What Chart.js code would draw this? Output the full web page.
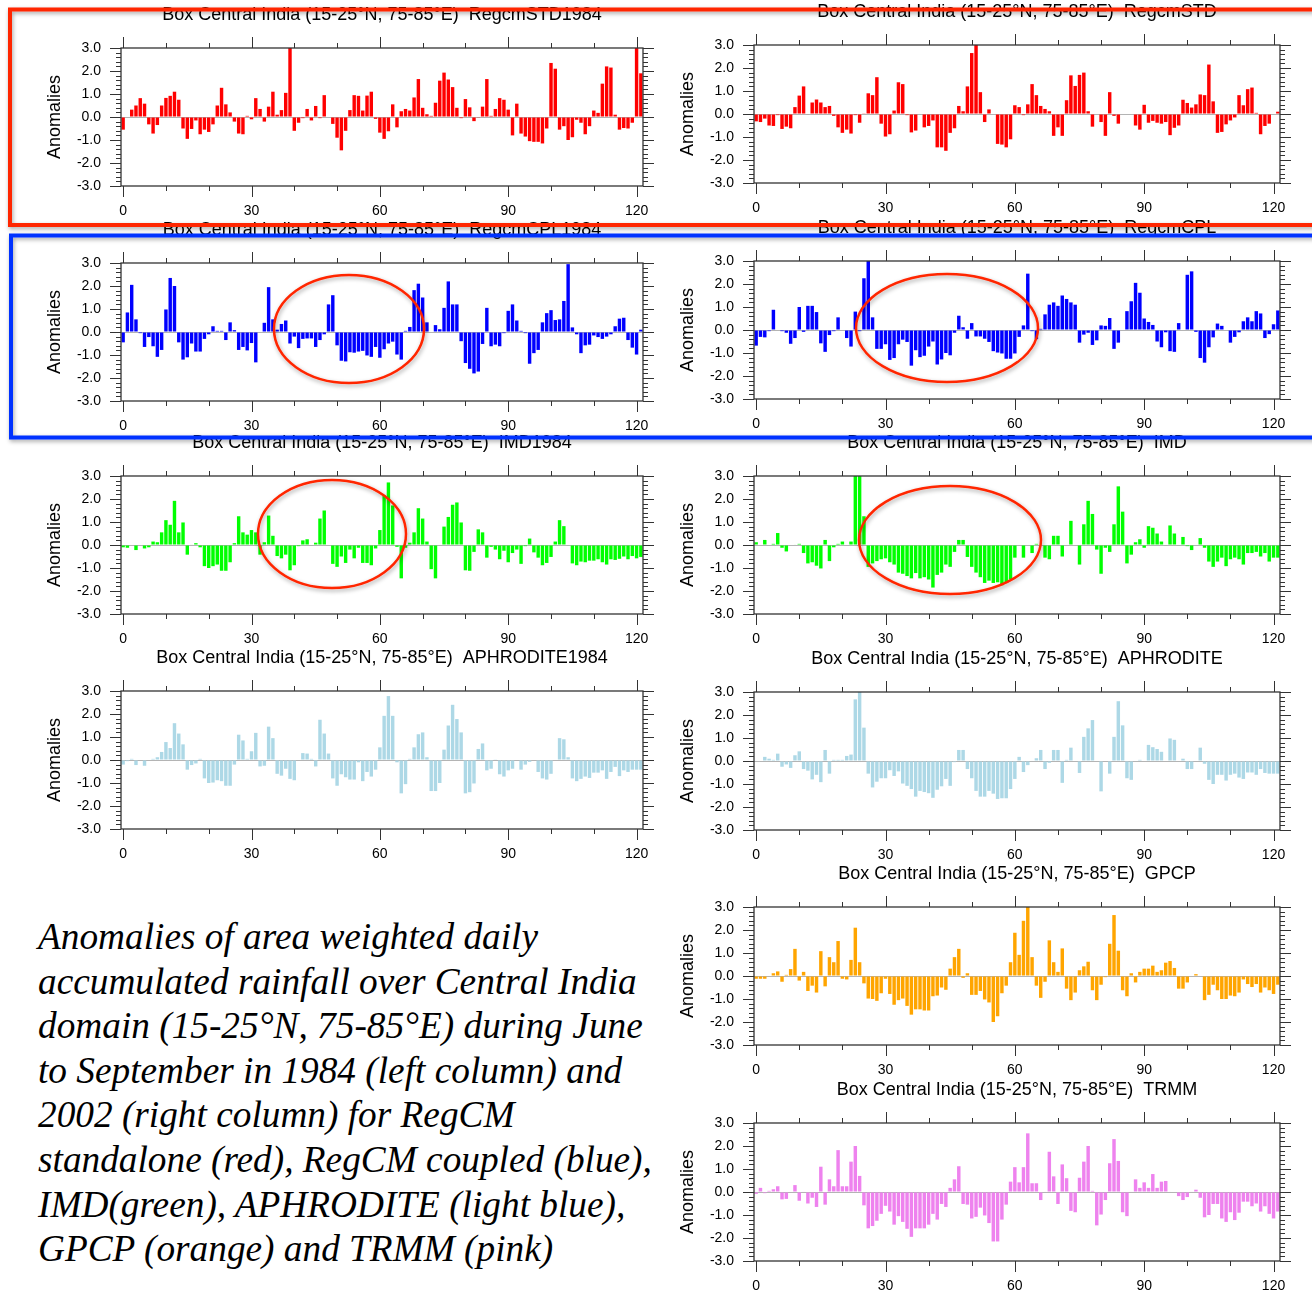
<!DOCTYPE html>
<html>
<head>
<meta charset="utf-8">
<script src="https://cdn.jsdelivr.net/npm/chart.js@4.4.0/dist/chart.umd.min.js"></script>
<style>
html, body { margin: 0; padding: 0; background: #fff; overflow: hidden; }
#page { position: relative; width: 1312px; height: 1290px; overflow: hidden; background: #fff; }
#page canvas { position: absolute; }
#caption {
    position: absolute; left: 38px; top: 915px;
    font-family: "Liberation Serif", "Times New Roman", serif;
    font-style: italic; font-size: 37.3px; line-height: 44.6px;
    white-space: nowrap; color: #000;
}
#overlay { position: absolute; left: 0; top: 0; }
</style>
</head>
<body>
<div id="page">
    <div id="caption">Anomalies of area weighted daily<br>accumulated rainfall over Central India<br>domain (15-25°N, 75-85°E) during June<br>to September in 1984 (left column) and<br>2002 (right column) for RegCM<br>standalone (red), RegCM coupled (blue),<br>IMD(green), APHRODITE (light blue),<br>GPCP (orange) and TRMM (pink)</div>
</div>
<script>
// days of June-September (0..121)
const days = [];
for (let i = 0; i < 122; i++) days.push(i);

const boxTitle = 'Box Central India (15-25°N, 75-85°E)  ';

// RegCM standalone
const regcmStd1984 = [
    -0.55, 0.0, 0.32, 0.5, 0.82, 0.58, -0.32, -0.72, -0.35, 0.5,
    0.83, 0.92, 1.1, 0.75, -0.5, -0.95, -0.52, -0.15, -0.75, -0.55,
    -0.65, -0.32, 0.5, 1.27, 0.55, 0.2, -0.2, -0.72, -0.75, 0.05,
    -0.1, 0.82, 0.35, -0.2, 0.45, 1.1, 0.1, 0.3, 1.05, 3.0,
    -0.6, -0.25, -0.05, 0.35, -0.15, 0.48, -0.05, 0.95, 0.0, -0.3,
    -0.9, -1.45, -0.6, 0.3, 0.95, 0.92, 0.28, 0.93, 1.1, -0.08,
    -0.68, -0.95, -0.62, 0.55, -0.45, 0.25, 0.35, 0.28, 0.85, 1.65,
    0.4, 0.12, 0.05, 0.62, 1.58, 1.93, 1.63, 1.3, 0.4, -0.05,
    0.78, 0.42, -0.18, -0.03, 0.45, 1.65, 0.05, 0.35, 0.82, 0.75,
    0.32, -0.8, 0.58, -0.72, -0.85, -1.05, -1.08, -1.08, -1.15, -0.5,
    2.35, 2.1, -0.55, -0.4, -1.0, -0.88, -0.12, -0.25, -0.75, -0.4,
    0.28, 0.18, 1.45, 2.2, 2.15, 0.1, -0.55, -0.48, -0.5, -0.25,
    3.0, 1.9
];
const regcmStd2002 = [
    -0.32, -0.35, -0.2, -0.5, -0.52, -0.05, -0.65, -0.55, -0.62, 0.3,
    0.8, 1.2, -0.02, 0.5, 0.63, 0.5, 0.3, 0.35, -0.08, -0.58,
    -0.82, -0.68, -0.85, -0.05, -0.38, 0.03, 0.9, 0.82, 1.6, -0.42,
    -0.98, -0.88, 0.15, 1.38, 1.3, -0.05, -0.8, -0.72, 0.0, -0.58,
    -0.52, -0.28, -1.45, -1.45, -1.6, -0.82, -0.62, 0.35, 0.12, 1.2,
    2.65, 3.0, 0.95, -0.35, 0.2, 0.0, -1.3, -1.33, -1.45, -1.1,
    0.38, 0.3, -0.05, 0.42, 1.3, 0.82, 0.35, 0.22, 0.12, -0.95,
    -0.58, -0.95, 0.6, 1.68, 1.22, 1.7, 1.8, 0.12, -0.55, 0.0,
    -0.35, -0.95, 0.95, -0.08, -0.42, 0.0, 0.0, 0.0, -0.5, -0.68,
    0.4, -0.38, -0.3, -0.38, -0.42, -0.35, -0.92, -0.6, -0.5, 0.62,
    0.48, 0.28, 0.42, 0.85, 0.82, 2.15, 0.55, -0.82, -0.78, -0.45,
    -0.28, -0.15, 0.82, 0.38, 1.08, 1.15, 0.05, -0.88, -0.52, -0.42,
    0.0, 0.1
];

// RegCM coupled
const regcmCpl1984 = [
    -0.45, 0.85, 2.05, 0.55, -0.05, -0.65, -0.22, -0.62, -1.08, -0.78,
    0.98, 2.35, 2.0, -0.45, -1.2, -1.1, -0.5, -0.85, -0.85, -0.3,
    -0.1, 0.25, 0.05, 0.05, -0.35, 0.42, 0.08, -0.78, -0.65, -0.8,
    -0.48, -1.32, 0.0, 0.4, 1.95, 0.55, 0.1, 0.35, 0.5, -0.5,
    -0.2, -0.7, -0.3, -0.28, -0.28, -0.65, -0.35, -0.1, 1.2, 1.6,
    -0.58, -1.25, -1.28, -0.88, -0.9, -0.85, -0.82, -1.02, -1.08, -0.65,
    -1.12, -0.75, -0.5, -0.42, -0.98, -1.2, 0.05, 0.22, 1.82, 2.1,
    1.5, 0.42, 0.0, 0.3, 0.12, 1.05, 2.2, 1.2, 1.2, -0.4,
    -1.35, -1.6, -1.8, -1.72, -0.52, 1.05, -0.62, -0.55, -0.62, -0.05,
    0.92, 1.2, 0.5, 0.05, -0.05, -1.38, -0.92, -0.78, 0.42, 0.82,
    0.95, 0.52, 0.55, 1.35, 2.95, 0.2, -0.1, -0.92, -0.58, -0.55,
    -0.15, -0.22, -0.3, -0.2, -0.1, 0.25, 0.58, 0.62, -0.35, -0.68,
    -0.98, 0.1
];
const regcmCpl2002 = [
    -0.68, -0.3, -0.32, -0.05, 0.88, 0.0, -0.05, -0.12, -0.6, -0.35,
    1.0, -0.08, 1.05, 1.05, 0.78, -0.58, -0.95, -0.22, -0.05, 0.55,
    0.0, -0.35, -0.72, 0.8, -0.05, 2.25, 3.0, 0.55, -0.82, -0.82,
    -0.62, -1.3, -1.22, -0.62, -0.42, -0.52, -1.55, -0.88, -1.18, -1.12,
    -0.72, -0.5, -1.5, -1.28, -1.0, -1.1, -0.12, 0.62, 0.12, -0.38,
    0.3, -0.28, -0.28, -0.38, -0.52, -0.92, -0.98, -1.02, -1.25, -1.25,
    -1.02, -0.3, 0.2, 2.45, -0.05, -0.4, 0.05, 0.68, 1.1, 1.2,
    1.05, 1.5, 1.35, 1.2, 1.1, -0.55, -0.2, -0.12, -0.65, -0.45,
    0.2, 0.18, 0.52, -0.82, -0.55, 0.0, 0.82, 1.25, 2.05, 1.62,
    0.5, 0.35, 0.22, -0.5, -0.75, -0.1, -0.92, -0.95, 0.3, 0.0,
    2.4, 2.55, -0.08, -1.22, -1.42, -0.75, -0.32, 0.28, 0.18, 0.0,
    -0.55, -0.3, -0.1, 0.38, 0.55, 0.38, 0.82, 0.72, -0.35, -0.18,
    0.25, 0.85
];

// IMD
const imd1984 = [
    -0.1, -0.12, 0.0, -0.22, 0.0, -0.15, -0.1, 0.15, 0.12, 0.55,
    1.08, 0.88, 1.92, 0.55, 0.98, -0.42, 0.02, 0.08, -0.1, -0.92,
    -1.0, -0.92, -0.85, -1.12, -1.12, -0.75, 0.08, 1.25, 0.55, 0.45,
    0.65, 0.55, -0.42, 0.12, 1.28, 0.4, -0.48, -0.58, -0.42, -1.1,
    -0.88, -0.05, 0.2, 0.25, -0.02, 0.1, 1.15, 1.5, 0.0, -0.82,
    -0.95, -0.5, -0.78, -0.2, -0.58, -0.12, -0.78, -0.78, -0.88, -0.15,
    0.65, 2.15, 2.72, 1.72, -0.08, -1.45, -0.12, 0.1, 0.55, 1.6,
    1.15, 0.15, -1.05, -1.45, 0.0, 0.8, 1.22, 1.75, 1.85, 0.98,
    -1.1, -1.12, -0.3, 0.68, 0.55, -0.55, -0.08, -0.2, -0.62, -0.25,
    -0.75, -0.35, -0.2, -0.82, -0.05, 0.28, -0.32, -0.55, -0.88, -0.78,
    -0.52, 0.15, 1.08, 0.82, -0.02, -0.8, -0.88, -0.72, -0.75, -0.68,
    -0.68, -0.62, -0.75, -0.85, -0.62, -0.65, -0.6, -0.5, -0.62, -0.48,
    -0.58, -0.52
];
const imd2002 = [
    0.12, 0.0, 0.22, 0.0, 0.05, 0.52, -0.12, -0.28, 0.0, 0.02,
    0.05, -0.35, -0.8, -0.75, -0.9, -1.02, 0.22, -0.7, -0.1, 0.05,
    0.15, 0.0, 0.15, 3.0, 3.0, 1.25, -0.95, -0.8, -0.7, -0.62,
    -0.58, -0.75, -0.85, -1.2, -1.25, -1.35, -1.45, -1.22, -1.45, -1.4,
    -1.5, -1.85, -1.3, -1.2, -0.85, -0.95, -0.3, 0.22, 0.22, -0.52,
    -0.95, -1.2, -1.4, -1.65, -1.55, -1.65, -1.62, -1.75, -1.65, -1.5,
    -0.55, 0.0, -0.55, 0.0, -0.35, 0.05, 0.0, -0.55, -0.62, 0.4,
    0.4, -0.5, 0.0, 1.05, 0.0, -0.85, 0.9, 1.92, 1.35, -0.2,
    -1.25, -0.12, -0.3, 0.9, 2.55, 1.45, -0.8, -0.42, 0.12, 0.25,
    -0.12, 0.82, 0.75, 0.5, 0.15, -0.02, 0.85, 0.5, -0.02, 0.35,
    -0.05, -0.22, 0.0, 0.3, -0.12, -0.72, -0.95, -0.72, -0.55, -0.92,
    -0.62, -0.55, -0.62, -0.85, -0.35, -0.35, -0.3, -0.5, -0.35, -0.72,
    -0.55, -0.55
];

// APHRODITE
const aphro1984 = [
    -0.2, -0.05, 0.05, -0.22, 0.0, -0.25, 0.0, 0.05, 0.12, 0.35,
    0.78, 0.52, 1.6, 1.15, 0.68, -0.42, -0.22, -0.15, 0.05, -0.8,
    -1.0, -0.98, -0.88, -0.92, -1.12, -1.12, -0.2, 1.1, 0.85, 0.05,
    0.38, 1.18, -0.28, -0.25, 1.45, 0.95, -0.6, -0.68, -0.38, -0.82,
    -0.88, 0.0, 0.3, 0.28, 0.05, -0.28, 1.75, 1.15, 0.28, -0.8,
    -1.12, -0.62, -0.75, -0.85, -0.85, -0.1, -0.92, -0.52, -0.72, -0.42,
    0.55, 1.92, 2.78, 1.92, -0.1, -1.45, -1.05, 0.05, 0.55, 1.12,
    1.2, 0.12, -1.35, -1.35, -1.0, 0.45, 1.5, 2.4, 1.78, 1.2,
    -1.45, -1.4, -1.02, 0.48, 0.72, -0.45, -0.38, 0.03, -0.62, -0.72,
    -0.45, -0.38, 0.0, -0.42, -0.2, -0.08, 0.0, -0.52, -0.8, -0.85,
    -0.6, 0.0, 0.95, 0.9, 0.12, -0.8, -0.92, -0.82, -0.72, -0.78,
    -0.55, -0.55, -0.45, -0.82, -0.52, -0.3, -0.7, -0.45, -0.52, -0.42,
    -0.42, -0.42
];
const aphro2002 = [
    0.02, 0.0, 0.18, 0.1, 0.05, 0.32, -0.25, -0.15, -0.3, 0.25,
    0.42, -0.35, -0.42, -0.8, -0.6, -0.92, 0.48, -0.55, 0.05, 0.05,
    0.05, 0.22, 0.28, 2.68, 3.0, 1.45, -0.55, -1.15, -0.9, -0.75,
    -0.75, -0.4, -0.65, -0.45, -0.98, -1.08, -1.22, -1.55, -1.3, -1.35,
    -1.4, -1.6, -1.25, -1.1, -0.78, -1.08, -0.05, 0.48, 0.48, -0.35,
    -0.75, -1.3, -1.55, -1.55, -1.3, -1.42, -1.65, -1.62, -1.62, -1.22,
    -0.78, 0.18, -0.48, -0.18, 0.02, 0.12, 0.48, -0.35, -0.08, 0.48,
    0.48, -0.95, 0.05, 0.58, -0.02, -0.52, 1.05, 1.42, 1.78, 0.0,
    -1.32, 0.0, -0.55, 1.05, 2.6, 1.55, -0.75, -0.82, -0.02, 0.05,
    0.0, 0.7, 0.6, 0.52, 0.4, 0.0, 0.98, 0.92, 0.0, 0.1,
    -0.35, -0.35, 0.0, 0.58, -0.12, -0.82, -1.0, -0.6, -0.6, -0.85,
    -0.6, -0.55, -0.72, -0.78, -0.5, -0.5, -0.6, -0.35, -0.52, -0.55,
    -0.55, -0.55
];

// GPCP and TRMM (2002 only)
const gpcp2002 = [
    -0.12, -0.12, -0.12, -0.02, 0.12, 0.2, -0.25, 0.05, 0.3, 1.18,
    -0.2, 0.18, -0.65, -0.42, -0.72, 1.08, -0.45, 0.82, 0.6, 1.52,
    -0.12, -0.15, 0.7, 2.1, 0.6, -0.32, -0.98, -1.0, -1.08, -0.75,
    -0.12, -0.78, -1.25, -1.05, -0.98, -1.3, -1.68, -1.45, -1.45, -1.5,
    -1.5, -0.88, -0.85, -0.5, -0.6, 0.32, 0.82, 1.18, -0.08, 0.12,
    -0.82, -0.82, -0.65, -1.02, -1.15, -2.0, -1.75, -0.75, -0.42, 0.6,
    1.88, 0.92, 2.4, 3.0, 0.82, -0.42, -0.95, -0.25, 1.55, 0.6,
    0.18, 1.2, -0.55, -1.05, -0.72, 0.25, 0.42, 0.62, -0.62, -1.05,
    -0.38, -0.05, 1.4, 2.65, 1.1, -0.62, -0.88, 0.12, -0.28, 0.18,
    0.32, 0.32, 0.45, 0.18, 0.25, 0.58, 0.65, 0.35, -0.55, -0.55,
    -0.28, 0.0, 0.08, 0.0, -1.05, -0.82, -0.38, -0.62, -1.0, -1.0,
    -0.85, -0.88, -0.72, -0.15, -0.35, -0.48, -0.35, -0.72, -0.5, -0.62,
    -0.78, -0.38
];
const trmm2002 = [
    -0.08, 0.18, -0.05, 0.05, 0.12, 0.25, -0.32, -0.3, -0.02, 0.3,
    -0.38, 0.02, -0.5, -0.25, -0.65, 1.1, -0.55, 0.55, 0.25, 1.82,
    0.25, 0.25, 1.32, 2.0, 0.7, -0.58, -1.58, -1.48, -1.25, -0.95,
    -0.6, -0.85, -1.42, -1.05, -1.3, -1.6, -1.95, -1.58, -1.58, -1.58,
    -1.42, -0.95, -1.2, -0.52, -0.65, 0.18, 0.55, 1.12, -0.52, -0.55,
    -1.15, -1.08, -0.68, -1.02, -1.35, -2.15, -2.15, -1.2, -0.55, 0.45,
    1.08, 0.42, 1.08, 2.55, 0.38, 0.38, -0.35, 0.02, 1.75, 0.68,
    -0.52, 1.2, 0.6, -0.82, -0.88, 0.62, 1.32, 2.0, 0.05, -1.45,
    -0.98, -0.35, 1.25, 2.3, 1.35, -0.88, -1.05, 0.02, 0.55, 0.18,
    0.42, 0.18, 0.78, 0.18, 0.45, 0.48, 0.02, 0.0, -0.18, -0.35,
    -0.22, 0.02, 0.1, -0.25, -1.1, -1.0, -0.52, -0.52, -1.15, -1.3,
    -0.88, -1.22, -0.9, -0.42, -0.42, -0.62, -0.5, -0.85, -0.62, -0.95,
    -1.15, -0.85
];

// panel placement (plot area left/top in page pixels)
const LEFT_COL = 121, RIGHT_COL = 754;
const panels = [
    { name: 'RegcmSTD1984',  values: regcmStd1984, color: '#ff0000', left: LEFT_COL,  top: 48,   width: 522 },
    { name: 'RegcmSTD',      values: regcmStd2002, color: '#ff0000', left: RIGHT_COL, top: 45,   width: 526 },
    { name: 'RegcmCPL1984',  values: regcmCpl1984, color: '#0000ff', left: LEFT_COL,  top: 263,  width: 522 },
    { name: 'RegcmCPL',      values: regcmCpl2002, color: '#0000ff', left: RIGHT_COL, top: 261,  width: 526 },
    { name: 'IMD1984',       values: imd1984,      color: '#00ff00', left: LEFT_COL,  top: 476,  width: 522 },
    { name: 'IMD',           values: imd2002,      color: '#00ff00', left: RIGHT_COL, top: 476,  width: 526 },
    { name: 'APHRODITE1984', values: aphro1984,    color: '#add8e6', left: LEFT_COL,  top: 691,  width: 522 },
    { name: 'APHRODITE',     values: aphro2002,    color: '#add8e6', left: RIGHT_COL, top: 692,  width: 526 },
    { name: 'GPCP',          values: gpcp2002,     color: '#ffa500', left: RIGHT_COL, top: 907,  width: 526 },
    { name: 'TRMM',          values: trmm2002,     color: '#ee82ee', left: RIGHT_COL, top: 1123, width: 526 }
];

const PLOT_H = 138, AXIS_W = 100, TITLE_H = 50, XAXIS_H = 40, PAD_R = 25;

Chart.defaults.font.family = '"Liberation Sans", Arial, Helvetica, sans-serif';
Chart.defaults.color = '#000';

// NCL-like frame with outward major/minor tick marks on all four sides
const nclFrame = {
    id: 'nclFrame',
    afterDraw(chart) {
        const { ctx, chartArea: a, scales: { x, y } } = chart;
        ctx.save();
        ctx.strokeStyle = '#333';
        ctx.lineWidth = 1.3;
        ctx.strokeRect(a.left, a.top, a.right - a.left, a.bottom - a.top);
        ctx.beginPath();
        for (let d = 0; d <= 120; d += 10) {
            const px = Math.round(x.getPixelForValue(d)) + 0.5;
            const len = d % 30 === 0 ? 11 : 5;
            ctx.moveTo(px, a.bottom); ctx.lineTo(px, a.bottom + len);
            ctx.moveTo(px, a.top); ctx.lineTo(px, a.top - len);
        }
        for (let k = -15; k <= 15; k++) {
            const py = Math.round(y.getPixelForValue(k / 5)) + 0.5;
            const len = k % 5 === 0 ? 11 : 5;
            ctx.moveTo(a.left, py); ctx.lineTo(a.left - len, py);
            ctx.moveTo(a.right, py); ctx.lineTo(a.right + len, py);
        }
        ctx.lineWidth = 1;
        ctx.stroke();
        ctx.restore();
    }
};

function makePanel(p) {
    const cv = document.createElement('canvas');
    const w = p.width + AXIS_W + PAD_R;
    const h = PLOT_H + TITLE_H + XAXIS_H;
    cv.width = w;
    cv.height = h;
    cv.style.left = (p.left - AXIS_W) + 'px';
    cv.style.top = (p.top - TITLE_H) + 'px';
    cv.style.width = w + 'px';
    cv.style.height = h + 'px';
    document.getElementById('page').appendChild(cv);

    new Chart(cv.getContext('2d'), {
        type: 'bar',
        data: {
            labels: days,
            datasets: [{
                data: p.values,
                backgroundColor: p.color,
                barPercentage: 0.8,
                categoryPercentage: 1.0
            }]
        },
        options: {
            responsive: false,
            animation: false,
            devicePixelRatio: 1,
            layout: { padding: { left: 0, right: PAD_R, top: 0, bottom: 0 } },
            plugins: {
                legend: { display: false },
                tooltip: { enabled: false },
                title: {
                    display: true,
                    text: boxTitle + p.name,
                    fullSize: false,
                    color: '#000',
                    font: { size: 18, weight: 'normal' },
                    padding: { top: 6, bottom: 22.4 }
                }
            },
            scales: {
                x: {
                    type: 'category',
                    offset: true,
                    grid: { display: false },
                    border: { display: false },
                    ticks: {
                        autoSkip: false,
                        maxRotation: 0,
                        padding: 9,
                        font: { size: 14 },
                        callback: (v, i) => (i % 30 === 0 ? String(i) : '')
                    },
                    afterFit: s => { s.height = XAXIS_H; }
                },
                y: {
                    min: -3,
                    max: 3,
                    grid: {
                        drawTicks: false,
                        color: c => (c.tick && c.tick.value === 0 ? '#b4b4b4' : 'rgba(0,0,0,0)')
                    },
                    border: { display: false },
                    ticks: {
                        stepSize: 1,
                        padding: 20,
                        font: { size: 14 },
                        callback: v => Number(v).toFixed(1)
                    },
                    title: {
                        display: true,
                        text: 'Anomalies',
                        font: { size: 18 },
                        padding: { top: 23, bottom: 0 }
                    },
                    afterFit: s => { s.width = AXIS_W; }
                }
            }
        },
        plugins: [nclFrame]
    });
}

panels.forEach(makePanel);

// slide annotations: highlight frames and ellipses
const svgNS = 'http://www.w3.org/2000/svg';
const svg = document.createElementNS(svgNS, 'svg');
svg.setAttribute('id', 'overlay');
svg.setAttribute('width', '1312');
svg.setAttribute('height', '1290');
svg.innerHTML =
    '<defs><filter id="sh" x="-10%" y="-10%" width="120%" height="130%">' +
    '<feDropShadow dx="1" dy="2" stdDeviation="2" flood-color="#000" flood-opacity="0.35"/></filter></defs>' +
    '<rect x="10" y="9.5" width="1330" height="215.5" fill="none" stroke="#ff2600" stroke-width="4" filter="url(#sh)"/>' +
    '<rect x="11" y="235.5" width="1330" height="202" fill="none" stroke="#0433ff" stroke-width="4" filter="url(#sh)"/>' +
    '<ellipse cx="349" cy="329" rx="75" ry="54" fill="none" stroke="#ff2600" stroke-width="2.5" filter="url(#sh)"/>' +
    '<ellipse cx="947" cy="328" rx="91" ry="54" fill="none" stroke="#ff2600" stroke-width="2.5" filter="url(#sh)"/>' +
    '<ellipse cx="332" cy="534" rx="74" ry="54" fill="none" stroke="#ff2600" stroke-width="2.5" filter="url(#sh)"/>' +
    '<ellipse cx="950" cy="540" rx="91" ry="54" fill="none" stroke="#ff2600" stroke-width="2.5" filter="url(#sh)"/>';
document.getElementById('page').appendChild(svg);
</script>
</body>
</html>
